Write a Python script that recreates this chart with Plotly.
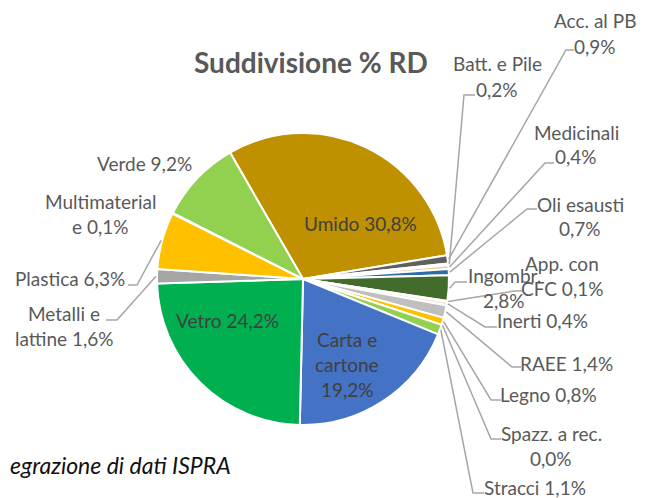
import math
import plotly.graph_objects as go

# ---------------- data ----------------
categories = ["Umido", "Acc. al PB", "Batt. e Pile", "Medicinali", "Oli esausti",
              "Ingombr.", "App. con CFC", "Inerti", "RAEE", "Legno",
              "Spazz. a rec.", "Stracci", "Carta e cartone", "Vetro",
              "Metalli e lattine", "Plastica", "Multimateriale", "Verde"]
values = [30.8, 0.9, 0.2, 0.4, 0.7,
          2.8, 0.1, 0.4, 1.4, 0.8,
          0.0, 1.1, 19.2, 24.2,
          1.6, 6.3, 0.1, 9.2]

# label wording (line breaks as in the original)
label_lines = {
    "Umido": ["Umido {v}"],
    "Acc. al PB": ["Acc. al PB", "{v}"],
    "Batt. e Pile": ["Batt. e Pile", "{v}"],
    "Medicinali": ["Medicinali", "{v}"],
    "Oli esausti": ["Oli esausti", "{v}"],
    "Ingombr.": ["Ingombr.", "{v}"],
    "App. con CFC": ["App. con", "CFC {v}"],
    "Inerti": ["Inerti {v}"],
    "RAEE": ["RAEE {v}"],
    "Legno": ["Legno {v}"],
    "Spazz. a rec.": ["Spazz. a rec.", "{v}"],
    "Stracci": ["Stracci {v}"],
    "Carta e cartone": ["Carta e", "cartone", "{v}"],
    "Vetro": ["Vetro {v}"],
    "Metalli e lattine": ["Metalli e", "lattine {v}"],
    "Plastica": ["Plastica {v}"],
    "Multimateriale": ["Multimaterial", "e {v}"],
    "Verde": ["Verde {v}"],
}

# ---------------- style / layout ----------------
colors = ["#BF9000", "#5F5F5F", "#F2F2F2", "#E3CD95", "#2E6DA4",
          "#426B2C", "#F4B183", "#FBE5D6", "#BFBFBF", "#FFC000",
          "#A9D18E", "#92D050", "#4472C4", "#00B050",
          "#A5A5A5", "#FFC000", "#FFF2CC", "#92D050"]

W, H = 649, 498
OFF = 8          # page body margin of the browser
CX, CY, R = 303, 279, 146
ROTATION = -30
LINE_H = 25

# label layout in window pixels: (center x, first line y, elbow (x, y) or None, end x, inside)
label_pos = {
    "Umido": (360, 223, None, None, True),
    "Acc. al PB": (595, 21, (566, 50), 574, False),
    "Batt. e Pile": (497, 64, (464, 95), 475, False),
    "Medicinali": (576, 132, (545, 163), 554, False),
    "Oli esausti": (580, 204, (527, 209), 537, False),
    "Ingombr.": (504, 275, (455, 282), 467, False),
    "App. con CFC": (562, 263, (514, 291), 522, False),
    "Inerti": (542, 320, (485, 327), 497, False),
    "RAEE": (566, 363, (512, 367), 521, False),
    "Legno": (548, 394, (491, 400), 501, False),
    "Spazz. a rec.": (551, 433, (491, 439), 501, False),
    "Stracci": (535, 487, (473, 493), 484, False),
    "Carta e cartone": (347, 339, None, None, True),
    "Vetro": (227, 320, None, None, True),
    "Metalli e lattine": (64, 313, (117, 320), 106, False),
    "Plastica": (70, 278, (137, 285), 128, False),
    "Multimateriale": (100, 202, None, None, False),
    "Verde": (144, 163, None, None, False),
}

FONT = "Lato"
TXT_OUT = "#595959"
TXT_IN = "#404040"
LEADER = "#A6A6A6"


def px(x):
    return (x - OFF) / W


def py(y):
    return 1 - (y - OFF) / H


def fmt(v):
    return f"{v:.1f}".replace(".", ",") + "%"


fig = go.Figure(go.Pie(
    labels=categories,
    values=values,
    sort=False,
    direction="clockwise",
    rotation=ROTATION,
    marker=dict(colors=colors, line=dict(color="white", width=2)),
    textinfo="none",
    hoverinfo="label+percent",
    showlegend=False,
    domain=dict(x=[px(CX - R), px(CX + R)], y=[py(CY + R), py(CY - R)]),
))

annotations = []
shapes = []
total = sum(values)
cum = 0.0
for name, v in zip(categories, values):
    mid = math.radians(ROTATION + 360 * (cum + v / 2) / total)
    cum += v
    cx, cy0, elbow, endx, inside = label_pos[name]
    lines = [t.format(v=fmt(v)) for t in label_lines[name]]
    for i, t in enumerate(lines):
        annotations.append(dict(
            x=px(cx), y=py(cy0 + i * LINE_H), xref="paper", yref="paper",
            text=t, showarrow=False, xanchor="center", yanchor="middle",
            font=dict(family=FONT, size=19, color=TXT_IN if inside else TXT_OUT),
        ))
    if elbow is not None:
        sx = CX + (R + 1) * math.sin(mid)
        sy = CY - (R + 1) * math.cos(mid)
        path = (f"M {px(sx)},{py(sy)} L {px(elbow[0])},{py(elbow[1])} "
                f"L {px(endx)},{py(elbow[1])}")
        shapes.append(dict(type="path", path=path, xref="paper", yref="paper",
                           line=dict(color=LEADER, width=1.5)))

annotations.append(dict(
    x=px(311), y=py(62), xref="paper", yref="paper", text="<b>Suddivisione % RD</b>",
    showarrow=False, xanchor="center", yanchor="middle",
    font=dict(family=FONT, size=28, color="#595959"),
))
annotations.append(dict(
    x=px(8), y=py(465), xref="paper", yref="paper", text="<i>egrazione di dati ISPRA</i>",
    showarrow=False, xanchor="left", yanchor="middle",
    font=dict(family=FONT, size=23, color="#111111"),
))

fig.update_layout(
    width=W, height=H,
    margin=dict(l=0, r=0, t=0, b=0),
    paper_bgcolor="white", plot_bgcolor="white",
    annotations=annotations, shapes=shapes,
)

fig.write_html("out.html")
